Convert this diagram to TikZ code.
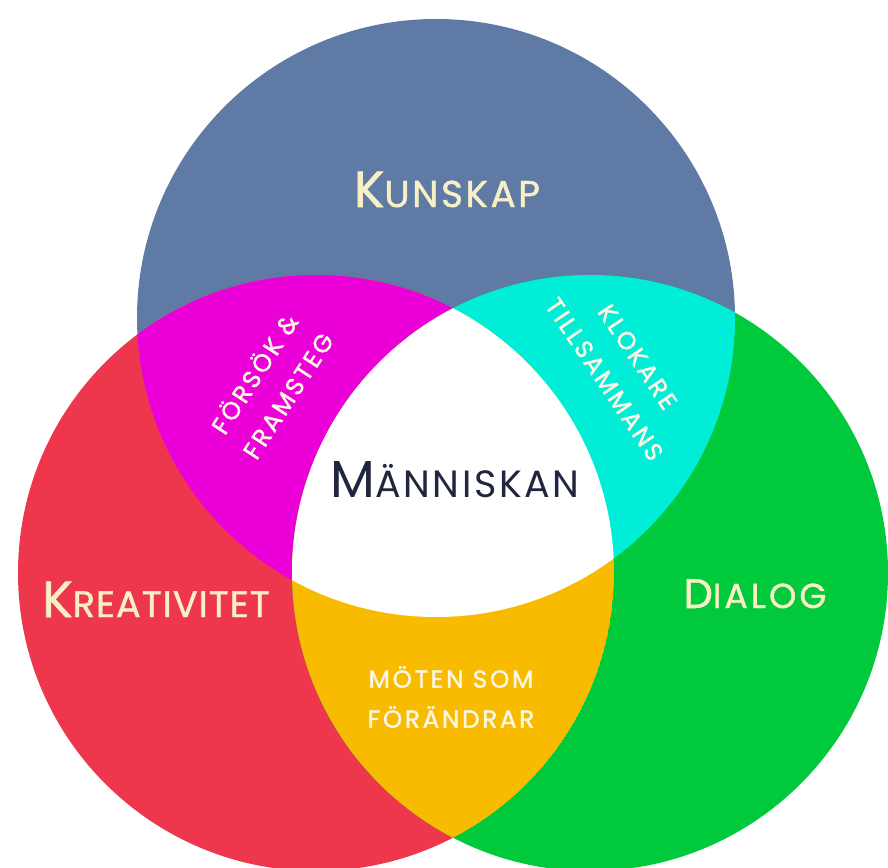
\documentclass[tikz,border=0pt]{standalone}
\usepackage{fontspec}
\setmainfont{Poppins}
\usepackage{tikz}

\definecolor{kunskapblue}{RGB}{95,123,165}
\definecolor{kreativred}{RGB}{238,55,76}
\definecolor{dialoggreen}{RGB}{0,201,60}
\definecolor{forsokmagenta}{RGB}{236,0,216}
\definecolor{klokarecyan}{RGB}{0,238,215}
\definecolor{motenorange}{RGB}{249,187,0}
\definecolor{namecream}{RGB}{246,240,196}
\definecolor{labelwhite}{RGB}{250,247,228}
\definecolor{manniskanavy}{RGB}{33,38,62}

% first letter large, the rest as small capitals
\newcommand{\scword}[4]{{\fontsize{#1}{#1}\selectfont #3}{\fontsize{#2}{#2}\selectfont #4}}
\newcommand{\namefont}[1]{\addfontfeatures{LetterSpace=#1,FakeBold=1.2}}
\newcommand{\labelfont}{\addfontfeatures{LetterSpace=11,FakeBold=1.6}\fontsize{18.5}{30}\selectfont}

\begin{document}
\begin{tikzpicture}[x=0.75pt,y=0.75pt,yscale=-1,xscale=1,
    bigname/.style={text=namecream, anchor=base, inner sep=0.75pt},
    smallname/.style={text=labelwhite, align=center, inner sep=0.75pt, font=\labelfont}]
    \useasboundingbox (0,0) rectangle (888,867);

    %Shape: Circle [Kunskap]
    \fill [kunskapblue] (436,318) circle [radius=299];
    %Shape: Circle [Kreativitet]
    \fill [kreativred] (316,573) circle [radius=298];
    %Shape: Circle [Dialog]
    \fill [dialoggreen] (590,573) circle [radius=298];

    %Shape: Lens [Kunskap and Kreativitet]
    \begin{scope}
        \clip (316,573) circle [radius=298];
        \fill [forsokmagenta] (436,318) circle [radius=299];
    \end{scope}
    %Shape: Lens [Kunskap and Dialog]
    \begin{scope}
        \clip (590,573) circle [radius=298];
        \fill [klokarecyan] (436,318) circle [radius=299];
    \end{scope}
    %Shape: Lens [Kreativitet and Dialog], centre white
    \begin{scope}
        \clip (316,573) circle [radius=298];
        \clip (590,573) circle [radius=298];
        \fill [motenorange] (316,573) circle [radius=298];
        \clip (436,318) circle [radius=299];
        \fill [white] (436,318) circle [radius=299];
    \end{scope}

    % Text Node
    \draw (447,207) node [bigname, font=\namefont{7}] (kunskap) {\scword{38}{28}{K}{UNSKAP}};
    % Text Node
    \draw (455,497) node [bigname, text=manniskanavy, font=\addfontfeatures{LetterSpace=7}] (manniskan) {\scword{39}{28.5}{M}{ÄNNISKAN}};
    % Text Node
    \draw (156,617) node [bigname, font=\namefont{3}] (kreativitet) {\scword{38}{27.5}{K}{REATIVITET}};
    % Text Node
    \draw (755,608) node [bigname, font=\namefont{9}] (dialog) {\scword{31}{26}{D}{IALOG}};
    % Text Node
    \draw (270,384) node [smallname, rotate=57] (forsok) {FÖRSÖK \&\\FRAMSTEG};
    % Text Node
    \draw (621,368) node [smallname, rotate=-56] (klokare) {KLOKARE\\TILLSAMMANS};
    % Text Node
    \draw (451,697) node [smallname] (moten) {MÖTEN SOM\\FÖRÄNDRAR};

\end{tikzpicture}
\end{document}
